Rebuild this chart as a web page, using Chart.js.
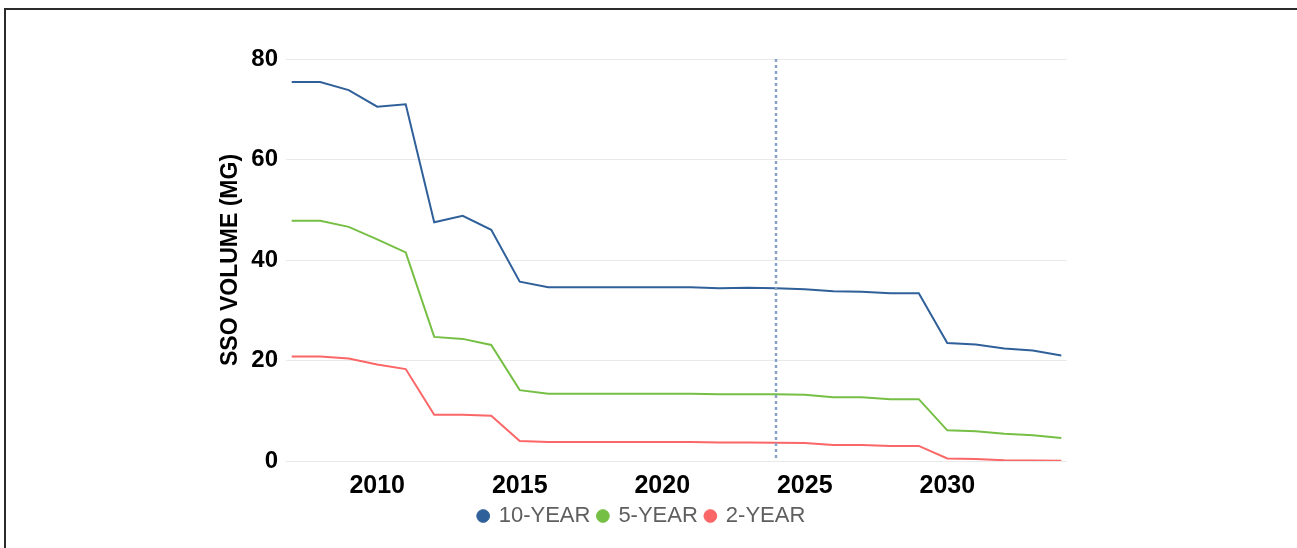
<!DOCTYPE html>
<html>
<head>
<meta charset="utf-8">
<title>SSO Volume</title>
<script src="https://cdn.jsdelivr.net/npm/chart.js@4.4.1/dist/chart.umd.min.js"></script>
<style>
  html, body { margin: 0; padding: 0; background: #fff; }
  #wrap { position: relative; width: 1297px; height: 548px; overflow: hidden; }
  #frame { position: absolute; left: 4px; top: 8px; right: -10px; bottom: -10px;
           border-left: 2px solid #2b2b2b; border-top: 2px solid #2b2b2b; pointer-events: none; }
  canvas { position: absolute; left: 0; top: 0; }
</style>
</head>
<body>
<div id="wrap">
  <canvas id="ssoChart" width="1297" height="548"></canvas>
  <div id="frame"></div>
</div>
<script>
const years = [2007, 2008, 2009, 2010, 2011, 2012, 2013, 2014, 2015, 2016, 2017, 2018, 2019, 2020,
               2021, 2022, 2023, 2024, 2025, 2026, 2027, 2028, 2029, 2030, 2031, 2032, 2033, 2034];

const tenYear = [75.4, 75.4, 73.8, 70.5, 71.0, 47.5, 48.8, 46.0, 35.7, 34.6, 34.6, 34.6, 34.6, 34.6,
                 34.6, 34.4, 34.5, 34.4, 34.2, 33.8, 33.7, 33.4, 33.4, 23.5, 23.2, 22.4, 22.0, 21.0];
const fiveYear = [47.8, 47.8, 46.6, 44.1, 41.5, 24.7, 24.3, 23.1, 14.1, 13.4, 13.4, 13.4, 13.4, 13.4,
                  13.4, 13.3, 13.3, 13.3, 13.2, 12.7, 12.7, 12.3, 12.3, 6.1, 5.9, 5.4, 5.1, 4.6];
const twoYear = [20.8, 20.8, 20.4, 19.2, 18.3, 9.2, 9.2, 9.0, 4.0, 3.8, 3.8, 3.8, 3.8, 3.8,
                 3.8, 3.7, 3.7, 3.65, 3.6, 3.2, 3.2, 3.0, 3.0, 0.5, 0.4, 0.15, 0.1, 0.05];

const xTicks = [2010, 2015, 2020, 2025, 2030];
const yTicks = [0, 20, 40, 60, 80];
const markerYear = 2024;

const toPoints = vals => years.map((yr, i) => ({ x: yr, y: vals[i] }));

const boldFont = size => ({ family: '"Liberation Sans", Arial, sans-serif', size: size, weight: 'bold' });

// dotted vertical line at the current year
const markerLine = {
    id: 'markerLine',
    afterDatasetsDraw(chart) {
        const { ctx, chartArea, scales } = chart;
        const x = Math.round(scales.x.getPixelForValue(markerYear));
        ctx.save();
        ctx.strokeStyle = '#89a2c3';
        ctx.lineWidth = 2.5;
        ctx.setLineDash([3, 3]);
        ctx.beginPath();
        ctx.moveTo(x, chartArea.top);
        ctx.lineTo(x, chartArea.bottom);
        ctx.stroke();
        ctx.restore();
    }
};

new Chart(document.getElementById('ssoChart').getContext('2d'), {
    type: 'line',
    data: {
        datasets: [
            { label: '10-YEAR', data: toPoints(tenYear), borderColor: '#30609a', backgroundColor: '#30609a' },
            { label: '5-YEAR', data: toPoints(fiveYear), borderColor: '#76bf45', backgroundColor: '#76bf45' },
            { label: '2-YEAR', data: toPoints(twoYear), borderColor: '#fb6666', backgroundColor: '#fb6666' }
        ]
    },
    options: {
        responsive: false,
        animation: false,
        devicePixelRatio: 1,
        elements: {
            line: { borderWidth: 2, tension: 0 },
            point: { radius: 0 }
        },
        layout: { padding: { left: 217, right: 230, top: 59, bottom: 11 } },
        scales: {
            x: {
                type: 'linear',
                min: 2006.8,
                max: 2034.2,
                grid: { display: false },
                border: { display: false },
                afterBuildTicks: axis => { axis.ticks = xTicks.map(v => ({ value: v })); },
                afterFit: axis => { axis.height = 36; },
                ticks: {
                    padding: 2,
                    color: '#000',
                    font: boldFont(25),
                    callback: v => String(v)
                }
            },
            y: {
                min: 0,
                max: 80,
                afterBuildTicks: axis => { axis.ticks = yTicks.map(v => ({ value: v })); },
                afterFit: axis => { axis.width = 286 - 217; },
                grid: { color: '#e9e9e9', lineWidth: 1, drawTicks: false },
                border: { display: false },
                ticks: {
                    padding: 8,
                    color: '#000',
                    font: boldFont(24)
                },
                title: {
                    display: true,
                    text: 'SSO VOLUME (MG)',
                    color: '#000',
                    padding: { top: 0, bottom: 6 },
                    font: boldFont(23)
                }
            }
        },
        plugins: {
            legend: {
                position: 'bottom',
                labels: {
                    usePointStyle: true,
                    pointStyle: 'circle',
                    boxWidth: 9,
                    boxHeight: 9,
                    padding: 8,
                    color: '#5f5f5f',
                    font: { family: '"Liberation Sans", Arial, sans-serif', size: 22 }
                }
            },
            tooltip: { enabled: false }
        }
    },
    plugins: [markerLine]
});
</script>
</body>
</html>
